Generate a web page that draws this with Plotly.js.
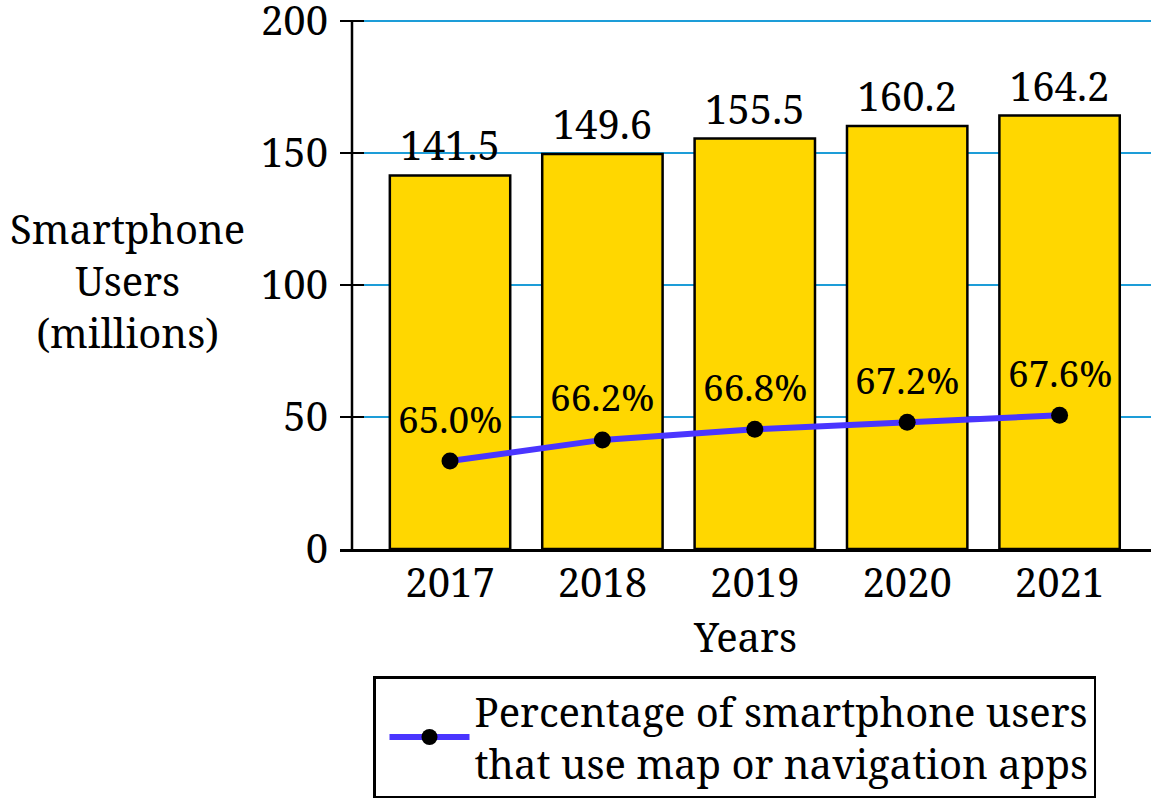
<!DOCTYPE html>
<html>
<head>
<meta charset="utf-8">
<script src="https://cdn.plot.ly/plotly-3.0.1.min.js"></script>
<style>html,body{margin:0;padding:0;background:#fff;}#chart{width:1151px;height:800px;}</style>
</head>
<body>
<div id="chart"></div>
<script>
const years = ['2017', '2018', '2019', '2020', '2021'];
const users = [141.5, 149.6, 155.5, 160.2, 164.2];
const navPct = [65.0, 66.2, 66.8, 67.2, 67.6];
const yTicks = [0, 50, 100, 150, 200];
const legendName = 'Percentage of smartphone users<br>that use map or navigation apps';
const yTitle = 'Smartphone<br>Users<br>(millions)';

const FONT = 'Noto Serif';
const FS = 40;

const barTrace = {
  type: 'bar', x: years, y: users,
  marker: {color: '#FFD700', line: {color: '#000', width: 2.5}},
  text: users.map(v => v.toFixed(1)), textposition: 'outside',
  textfont: {family: FONT, size: FS, color: '#000'},
  cliponaxis: false, showlegend: false, hoverinfo: 'x+y'
};
const lineTrace = {
  type: 'scatter', mode: 'lines+markers', x: years, y: navPct, yaxis: 'y2',
  name: legendName,
  line: {color: '#4a35ff', width: 6},
  marker: {color: '#000', size: 17},
  cliponaxis: false
};

// category axis: annotations use the category index of each year
const annotations = navPct.map((v, i) => ({
  x: i, y: v, xref: 'x', yref: 'y2', text: v.toFixed(1) + '%',
  showarrow: false, yshift: 43, font: {family: FONT, size: 37, color: '#000'}
}));
annotations.push({
  xref: 'paper', yref: 'paper', x: (127-340)/811, y: (549-280)/529, xanchor: 'center', yanchor: 'middle',
  text: yTitle, showarrow: false, font: {family: FONT, size: FS, color: '#000'}
});

const layout = {
  width: 1151, height: 800,
  margin: {l: 340, r: 0, t: 20, b: 251},
  paper_bgcolor: '#fff', plot_bgcolor: '#fff',
  font: {family: FONT, size: FS, color: '#000'},
  bargap: 0.21,
  xaxis: {
    type: 'category', range: [-0.722, 4.6],
    showline: true, linecolor: '#000', linewidth: 2.5,
    ticks: '', showgrid: false, zeroline: false,
    tickfont: {family: FONT, size: FS}, ticklabelstandoff: -3,
    title: {text: 'Years', font: {family: FONT, size: FS}, standoff: 13}
  },
  yaxis: {
    range: [0, 200.4], tickvals: yTicks, ticktext: yTicks.map(String),
    showline: false, zeroline: false,
    showgrid: true, gridcolor: '#1d9dd8', gridwidth: 2,
    ticks: 'inside', ticklen: 24, tickwidth: 2, tickcolor: '#000',
    tickfont: {family: FONT, size: FS}, ticklabelstandoff: 11,
    ticklabeloverflow: 'allow'
  },
  yaxis2: {overlaying: 'y', side: 'right', range: [60, 90.06], showgrid: false, zeroline: false,
           showline: false, showticklabels: false, ticks: ''},
  showlegend: true,
  legend: {
    x: 33/811, y: (549-676)/529, xanchor: 'left', yanchor: 'top',
    bordercolor: '#000', borderwidth: 2.5, bgcolor: '#fff',
    itemwidth: 80, indentation: 9,
    font: {family: FONT, size: 40, color: '#000'}
  },
  shapes: [{
    type: 'line', xref: 'paper', yref: 'paper', x0: 12/811, x1: 12/811, y0: 0, y1: 1,
    line: {color: '#000', width: 2.5}
  }],
  annotations: annotations
};

Plotly.newPlot('chart', [barTrace, lineTrace], layout, {displayModeBar: false});
</script>
</body>
</html>
